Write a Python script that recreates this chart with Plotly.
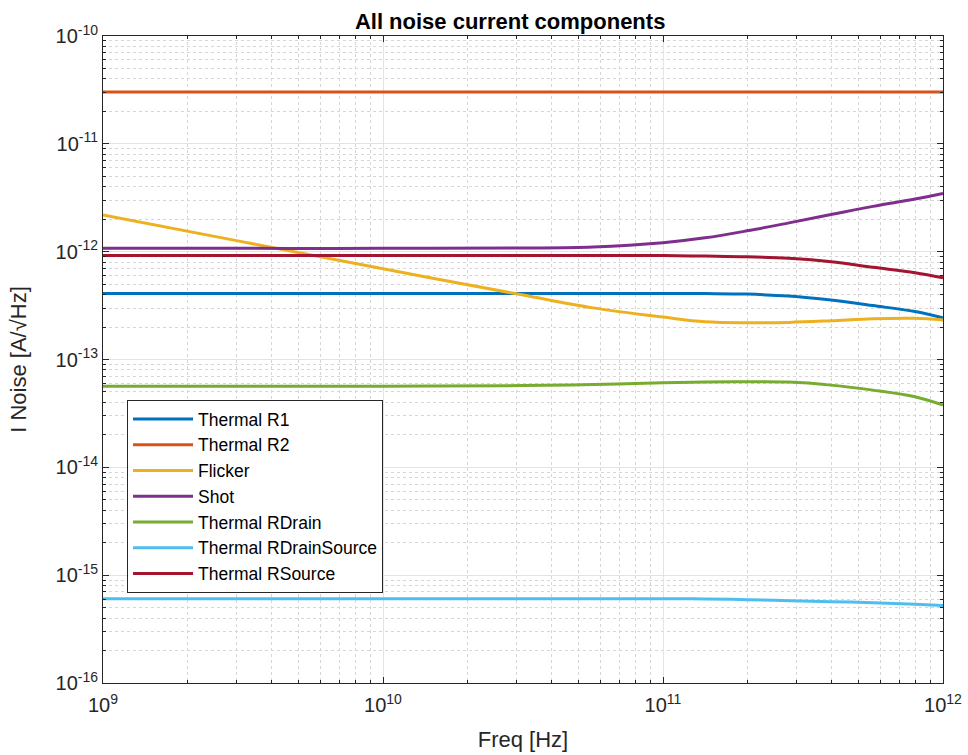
import plotly.graph_objects as go

freq_hz = [1e9, 3.162e9, 1e10, 3.162e10, 5.623e10, 1e11, 1.413e11, 1.995e11,
           2.818e11, 3.981e11, 5.623e11, 7.943e11, 1e12]

thermal_r1 = [4.10e-13, 4.10e-13, 4.10e-13, 4.10e-13, 4.10e-13, 4.10e-13, 4.087e-13,
              4.04e-13, 3.873e-13, 3.556e-13, 3.162e-13, 2.782e-13, 2.436e-13]
thermal_r2 = [3.02e-11] * 13
flicker = [2.185e-12, 1.233e-12, 6.94e-13, 3.957e-13, 3.011e-13, 2.473e-13, 2.237e-13,
           2.19e-13, 2.208e-13, 2.286e-13, 2.386e-13, 2.407e-13, 2.32e-13]
shot = [1.073e-12, 1.073e-12, 1.073e-12, 1.080e-12, 1.103e-12, 1.21e-12, 1.343e-12,
        1.56e-12, 1.85e-12, 2.208e-12, 2.632e-12, 3.076e-12, 3.474e-12]
thermal_rdrain = [5.663e-14, 5.663e-14, 5.663e-14, 5.725e-14, 5.85e-14, 6.08e-14, 6.17e-14,
                  6.21e-14, 6.17e-14, 5.786e-14, 5.2e-14, 4.508e-14, 3.776e-14]
thermal_rdrainsource = [6.05e-16, 6.05e-16, 6.05e-16, 6.05e-16, 6.05e-16, 6.05e-16, 6.026e-16,
                        5.924e-16, 5.8e-16, 5.677e-16, 5.557e-16, 5.383e-16, 5.235e-16]
thermal_rsource = [9.2e-13, 9.2e-13, 9.2e-13, 9.2e-13, 9.2e-13, 9.2e-13, 9.1e-13,
                   8.97e-13, 8.666e-13, 8.06e-13, 7.153e-13, 6.372e-13, 5.726e-13]

series_names = ["Thermal R1", "Thermal R2", "Flicker", "Shot", "Thermal RDrain",
                "Thermal RDrainSource", "Thermal RSource"]
series_values = [thermal_r1, thermal_r2, flicker, shot, thermal_rdrain,
                 thermal_rdrainsource, thermal_rsource]
colors = ["#0072BD", "#D95319", "#EDB120", "#7E2F8E", "#77AC30", "#4DBEEE", "#A2142F"]

x_ticks = [1e9, 1e10, 1e11, 1e12]
x_ticktext = ["10<sup>9</sup>", "10<sup>10</sup>", "10<sup>11</sup>", "10<sup>12</sup>"]
y_ticks = [1e-16, 1e-15, 1e-14, 1e-13, 1e-12, 1e-11, 1e-10]
y_ticktext = ["10<sup>-16</sup>", "10<sup>-15</sup>", "10<sup>-14</sup>", "10<sup>-13</sup>",
              "10<sup>-12</sup>", "10<sup>-11</sup>", "10<sup>-10</sup>"]

x_minor = [m * 10 ** e for e in range(9, 12) for m in range(2, 10)]
y_minor = [m * 10.0 ** e for e in range(-16, -10) for m in range(2, 10)]

fig = go.Figure()
for name, vals, col in zip(series_names, series_values, colors):
    fig.add_trace(go.Scatter(
        x=freq_hz, y=vals, name=name, mode="lines",
        line=dict(color=col, width=3, shape="spline", smoothing=1.0),
    ))

FONT = "Liberation Sans, Arial, sans-serif"
TXT = "#262626"

axis_common = dict(
    type="log", showline=True, linecolor=TXT, linewidth=1, mirror="ticks",
    ticks="inside", ticklen=6, tickcolor=TXT, automargin=False,
    showgrid=True, gridcolor="#e3e3e3", gridwidth=1, zeroline=False,
    tickfont=dict(family=FONT, size=20, color=TXT),
)

fig.update_layout(
    width=968, height=755,
    margin=dict(l=103, r=25, t=36, b=72),
    paper_bgcolor="white", plot_bgcolor="white",
    title=dict(text="<b>All noise current components</b>", x=0.527, xanchor="center",
               y=0.9715, yanchor="middle",
               font=dict(family=FONT, size=22, color="black")),
    showlegend=True,
    legend=dict(x=0.0286, y=0.4374, xanchor="left", yanchor="top",
                bgcolor="white", bordercolor=TXT, borderwidth=1,
                font=dict(family=FONT, size=17.5, color="black"),
                itemwidth=60),
    font=dict(family=FONT, color=TXT),
)

fig.update_xaxes(
    **axis_common, range=[9, 12], tickvals=x_ticks, ticktext=x_ticktext,
    ticklabelstandoff=4,
    title=dict(text="Freq [Hz]", font=dict(family=FONT, size=22, color=TXT), standoff=16),
    minor=dict(tickvals=x_minor, ticks="inside", ticklen=3, tickcolor=TXT,
               showgrid=True, gridcolor="#d6d6d6", griddash="dot", gridwidth=1),
)
fig.update_yaxes(
    **axis_common, range=[-16, -10], tickvals=y_ticks, ticktext=y_ticktext,
    title=dict(text="I Noise [A/\u221aHz]", font=dict(family=FONT, size=22, color=TXT), standoff=22),
    minor=dict(tickvals=y_minor, ticks="inside", ticklen=3, tickcolor=TXT,
               showgrid=True, gridcolor="#d6d6d6", griddash="dot", gridwidth=1),
)

fig.write_html("out.html")
